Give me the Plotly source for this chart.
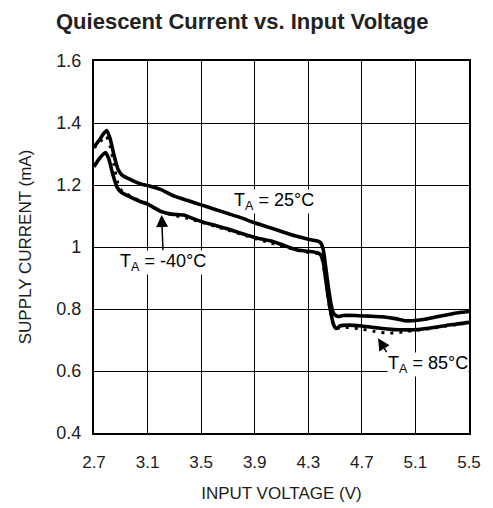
import plotly.graph_objects as go

# ---------------- data ----------------
v_25 = [2.70, 2.74, 2.77, 2.795, 2.82, 2.85, 2.88, 2.91, 2.95, 3.00, 3.05, 3.12, 3.20, 3.30,
        3.40, 3.50, 3.60, 3.70, 3.80, 3.90, 4.00, 4.10, 4.20, 4.30, 4.36, 4.39, 4.41, 4.43,
        4.45, 4.47, 4.49, 4.52, 4.56, 4.65, 4.75, 4.85, 4.95, 5.03, 5.10, 5.17, 5.25, 5.33,
        5.42, 5.50]
i_25 = [1.323, 1.345, 1.365, 1.376, 1.350, 1.295, 1.250, 1.232, 1.222, 1.212, 1.203, 1.196, 1.185, 1.164,
        1.150, 1.136, 1.122, 1.108, 1.094, 1.078, 1.064, 1.050, 1.036, 1.025, 1.020, 1.015, 0.995, 0.935,
        0.870, 0.815, 0.785, 0.776, 0.779, 0.779, 0.777, 0.775, 0.769, 0.762, 0.763, 0.767, 0.774, 0.781,
        0.788, 0.792]

v_m40 = [2.70, 2.74, 2.785, 2.81, 2.84, 2.87, 2.90, 2.94, 3.00, 3.05, 3.10, 3.20, 3.28, 3.37,
         3.45, 3.54, 3.62, 3.70, 3.79, 3.90, 4.04, 4.12, 4.21, 4.30, 4.36, 4.39, 4.41, 4.43,
         4.45, 4.47, 4.49, 4.51, 4.54, 4.60, 4.70, 4.80, 4.90, 4.98, 5.10, 5.20, 5.33, 5.42,
         5.50]
i_m40 = [1.259, 1.285, 1.305, 1.285, 1.235, 1.195, 1.178, 1.168, 1.155, 1.146, 1.138, 1.115, 1.106, 1.103,
         1.090, 1.077, 1.068, 1.058, 1.045, 1.031, 1.017, 1.005, 0.991, 0.986, 0.982, 0.976, 0.955, 0.895,
         0.835, 0.785, 0.748, 0.737, 0.746, 0.748, 0.745, 0.740, 0.735, 0.733, 0.733, 0.738, 0.747, 0.752,
         0.757]

v_85 = [2.70, 2.73, 2.76, 2.79, 2.82, 2.85, 2.88, 2.91, 2.95, 3.00, 3.10, 3.20, 3.30, 3.40,
        3.50, 3.60, 3.70, 3.80, 3.90, 4.00, 4.10, 4.20, 4.30, 4.37, 4.40, 4.42, 4.44, 4.46,
        4.48, 4.50, 4.52, 4.60, 4.70, 4.80, 4.90, 4.98, 5.08, 5.20, 5.33, 5.50]
i_85 = [1.320, 1.330, 1.346, 1.358, 1.325, 1.262, 1.205, 1.180, 1.170, 1.158, 1.140, 1.113, 1.102, 1.092,
        1.080, 1.067, 1.054, 1.041, 1.027, 1.015, 1.003, 0.991, 0.982, 0.978, 0.962, 0.920, 0.860, 0.800,
        0.758, 0.740, 0.738, 0.740, 0.735, 0.727, 0.722, 0.724, 0.730, 0.736, 0.745, 0.755]

x_ticks = [2.7, 3.1, 3.5, 3.9, 4.3, 4.7, 5.1, 5.5]
x_tick_labels = ["2.7", "3.1", "3.5", "3.9", "4.3", "4.7", "5.1", "5.5"]
y_ticks = [0.4, 0.6, 0.8, 1.0, 1.2, 1.4, 1.6]
y_tick_labels = ["0.4", "0.6", "0.8", "1", "1.2", "1.4", "1.6"]

FONT = "Liberation Sans, Arial, Helvetica, sans-serif"
INK = "#1c1c1c"

fig = go.Figure()
fig.add_trace(go.Scatter(x=v_25, y=i_25, mode="lines", line=dict(color="black", width=3.6, shape="spline", smoothing=0.6),
                         showlegend=False, hoverinfo="skip"))
fig.add_trace(go.Scatter(x=v_m40, y=i_m40, mode="lines", line=dict(color="black", width=3.6, shape="spline", smoothing=0.6),
                         showlegend=False, hoverinfo="skip"))
fig.add_trace(go.Scatter(x=v_85, y=i_85, mode="lines", line=dict(color="black", width=2.8, dash="3px,6px", shape="spline", smoothing=0.6),
                         showlegend=False, hoverinfo="skip"))

axis_common = dict(showgrid=True, gridcolor="black", gridwidth=1.3, zeroline=False, automargin=False,
                   showline=True, linecolor="black", linewidth=2.2, mirror=True, ticks="")

fig.update_xaxes(range=[2.7, 5.5], tickmode="array", tickvals=x_ticks, ticktext=x_tick_labels,
                 ticklabelstandoff=12, tickfont=dict(family=FONT, size=17, color=INK),
                 title=dict(text="INPUT VOLTAGE (V)", font=dict(family=FONT, size=17, color=INK), standoff=17),
                 **axis_common)
fig.update_yaxes(range=[0.4, 1.6], tickmode="array", tickvals=y_ticks, ticktext=y_tick_labels,
                 ticklabelstandoff=7, tickfont=dict(family=FONT, size=18, color=INK),
                 title=dict(text="SUPPLY CURRENT (mA)", font=dict(family=FONT, size=17, color=INK), standoff=20),
                 **axis_common)

lab_font = dict(family=FONT, size=18, color="black")
fig.add_annotation(x=4.043, y=1.146, xref="x", yref="y", text="T<sub>A</sub> = 25°C", showarrow=False,
                   font=lab_font, bgcolor="white", borderpad=0)
# labels with arrows: text box anchored at the arrow tail
fig.add_annotation(x=3.205, y=1.103, ax=3.215, ay=0.99, xref="x", yref="y", axref="x", ayref="y",
                   xanchor="center", yanchor="top",
                   text="T<sub>A</sub> = -40°C", font=lab_font, bgcolor="white", borderpad=0,
                   showarrow=True, arrowhead=2, arrowsize=1.6, arrowwidth=1.5, arrowcolor="black")
fig.add_annotation(x=4.821, y=0.706, ax=4.885, ay=0.661, xref="x", yref="y", axref="x", ayref="y",
                   xanchor="left", yanchor="top",
                   text="T<sub>A</sub> = 85°C", font=lab_font, bgcolor="white", borderpad=0,
                   showarrow=True, arrowhead=2, arrowsize=1.6, arrowwidth=1.5, arrowcolor="black")

fig.update_layout(
    width=493, height=508,
    margin=dict(l=94, r=24, t=61, b=75),
    paper_bgcolor="white", plot_bgcolor="white",
    title=dict(text="<b>Quiescent Current vs. Input Voltage</b>", font=dict(family=FONT, size=22, color="#222222"),
               xref="container", x=56 / 493, xanchor="left", yref="container", y=1 - 21 / 508, yanchor="middle"),
)

fig.write_html("out.html", config={"displayModeBar": False},
               post_script="document.body.style.margin='0';")
